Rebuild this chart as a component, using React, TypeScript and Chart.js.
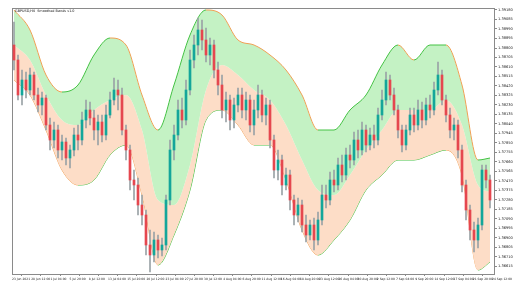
import React, { useEffect, useRef } from "react";
import { Chart, registerables } from "chart.js";

Chart.register(...registerables);

const chartTitle = "GBPUSD,H4  Smoothed Bands v1.0";

const opens = [
  1.3883, 1.3868, 1.3833, 1.3848, 1.3838, 1.3853, 1.3833, 1.3823, 1.3830, 1.3803,
  1.3788, 1.3798, 1.3778, 1.3786, 1.3770, 1.3778, 1.3793, 1.3788, 1.3808, 1.3818,
  1.3810, 1.3798, 1.3806, 1.3793, 1.3813, 1.3828, 1.3838, 1.3833, 1.3798, 1.3778,
  1.3748, 1.3743, 1.3723, 1.3713, 1.3683, 1.3673, 1.3688, 1.3678, 1.3683, 1.3728,
  1.3778, 1.3793, 1.3818, 1.3808, 1.3838, 1.3868, 1.3883, 1.3898, 1.3888, 1.3873,
  1.3883, 1.3858, 1.3843, 1.3818, 1.3828, 1.3808, 1.3823, 1.3833, 1.3818, 1.3828,
  1.3803, 1.3818, 1.3833, 1.3813, 1.3823, 1.3788, 1.3758, 1.3768, 1.3743, 1.3753,
  1.3728, 1.3713, 1.3723, 1.3703, 1.3693, 1.3703, 1.3688, 1.3708, 1.3733, 1.3728,
  1.3748, 1.3743, 1.3763, 1.3753, 1.3773, 1.3768, 1.3788, 1.3778, 1.3798, 1.3783,
  1.3793, 1.3788, 1.3813, 1.3828, 1.3848, 1.3833, 1.3818, 1.3798, 1.3783, 1.3798,
  1.3813, 1.3803, 1.3818, 1.3808, 1.3823, 1.3818, 1.3838, 1.3853, 1.3828, 1.3813,
  1.3798, 1.3803, 1.3778, 1.3743, 1.3718, 1.3698, 1.3688, 1.3703, 1.3758, 1.3748,
];

const highs = [
  1.3906, 1.3873, 1.3858, 1.3856, 1.3860, 1.3856, 1.3840, 1.3836, 1.3833, 1.3810,
  1.3806, 1.3803, 1.3793, 1.3790, 1.3783, 1.3800, 1.3803, 1.3816, 1.3828, 1.3826,
  1.3818, 1.3813, 1.3813, 1.3823, 1.3836, 1.3850, 1.3848, 1.3840, 1.3803, 1.3783,
  1.3758, 1.3750, 1.3733, 1.3718, 1.3698, 1.3696, 1.3693, 1.3690, 1.3733, 1.3788,
  1.3803, 1.3828, 1.3830, 1.3848, 1.3878, 1.3893, 1.3910, 1.3908, 1.3900, 1.3890,
  1.3888, 1.3866, 1.3853, 1.3836, 1.3833, 1.3830, 1.3840, 1.3840, 1.3836, 1.3833,
  1.3828, 1.3843, 1.3838, 1.3830, 1.3828, 1.3793, 1.3778, 1.3773, 1.3760, 1.3758,
  1.3733, 1.3730, 1.3728, 1.3713, 1.3708, 1.3710, 1.3716, 1.3743, 1.3743, 1.3756,
  1.3758, 1.3770, 1.3773, 1.3780, 1.3783, 1.3796, 1.3798, 1.3806, 1.3803, 1.3800,
  1.3803, 1.3820, 1.3838, 1.3856, 1.3853, 1.3840, 1.3823, 1.3803, 1.3803, 1.3820,
  1.3820, 1.3828, 1.3826, 1.3830, 1.3833, 1.3846, 1.3866, 1.3858, 1.3833, 1.3820,
  1.3810, 1.3808, 1.3783, 1.3748, 1.3723, 1.3706, 1.3710, 1.3763, 1.3763, 1.3753,
];

const lows = [
  1.3858, 1.3828, 1.3823, 1.3830, 1.3833, 1.3828, 1.3816, 1.3813, 1.3798, 1.3778,
  1.3780, 1.3770, 1.3768, 1.3763, 1.3760, 1.3772, 1.3778, 1.3783, 1.3800, 1.3803,
  1.3788, 1.3783, 1.3786, 1.3788, 1.3810, 1.3823, 1.3818, 1.3793, 1.3768, 1.3738,
  1.3728, 1.3713, 1.3703, 1.3673, 1.3656, 1.3666, 1.3670, 1.3672, 1.3678, 1.3723,
  1.3768, 1.3788, 1.3800, 1.3803, 1.3833, 1.3860, 1.3873, 1.3878, 1.3866, 1.3863,
  1.3850, 1.3833, 1.3810, 1.3806, 1.3798, 1.3800, 1.3816, 1.3810, 1.3808, 1.3796,
  1.3793, 1.3810, 1.3806, 1.3803, 1.3780, 1.3750, 1.3748, 1.3733, 1.3738, 1.3718,
  1.3703, 1.3706, 1.3696, 1.3686, 1.3688, 1.3678, 1.3683, 1.3703, 1.3720, 1.3723,
  1.3736, 1.3738, 1.3746, 1.3748, 1.3760, 1.3763, 1.3770, 1.3773, 1.3776, 1.3778,
  1.3780, 1.3783, 1.3808, 1.3823, 1.3828, 1.3813, 1.3790, 1.3776, 1.3778, 1.3793,
  1.3796, 1.3798, 1.3800, 1.3803, 1.3810, 1.3813, 1.3833, 1.3823, 1.3806, 1.3790,
  1.3788, 1.3770, 1.3736, 1.3708, 1.3688, 1.3676, 1.3680, 1.3698, 1.3740, 1.3720,
];

const closes = [
  1.3868, 1.3833, 1.3848, 1.3838, 1.3853, 1.3833, 1.3823, 1.3830, 1.3803, 1.3788,
  1.3798, 1.3778, 1.3786, 1.3770, 1.3778, 1.3793, 1.3788, 1.3808, 1.3818, 1.3810,
  1.3798, 1.3806, 1.3793, 1.3813, 1.3828, 1.3838, 1.3833, 1.3798, 1.3778, 1.3748,
  1.3743, 1.3723, 1.3713, 1.3683, 1.3673, 1.3688, 1.3678, 1.3683, 1.3728, 1.3778,
  1.3793, 1.3818, 1.3808, 1.3838, 1.3868, 1.3883, 1.3898, 1.3888, 1.3873, 1.3883,
  1.3858, 1.3843, 1.3818, 1.3828, 1.3808, 1.3823, 1.3833, 1.3818, 1.3828, 1.3803,
  1.3818, 1.3833, 1.3813, 1.3823, 1.3788, 1.3758, 1.3768, 1.3743, 1.3753, 1.3728,
  1.3713, 1.3723, 1.3703, 1.3693, 1.3703, 1.3688, 1.3708, 1.3733, 1.3728, 1.3748,
  1.3743, 1.3763, 1.3753, 1.3773, 1.3768, 1.3788, 1.3778, 1.3798, 1.3783, 1.3793,
  1.3788, 1.3813, 1.3828, 1.3848, 1.3833, 1.3818, 1.3798, 1.3783, 1.3798, 1.3813,
  1.3803, 1.3818, 1.3808, 1.3823, 1.3818, 1.3838, 1.3853, 1.3828, 1.3813, 1.3798,
  1.3803, 1.3778, 1.3743, 1.3718, 1.3698, 1.3688, 1.3703, 1.3758, 1.3748, 1.3728,
];

// band knots (bar index where each band value is sampled)
const bandIndex = [
  0, 4, 8, 12, 16, 20, 24, 28, 32, 36, 40, 44, 48, 52, 56, 60,
  64, 68, 72, 76, 80, 84, 88, 92, 96, 100, 104, 108, 112, 116, 119,
];
const upperBand = [
  1.3918, 1.3898, 1.3853, 1.3836, 1.3843, 1.3873, 1.3890, 1.3883, 1.3833, 1.3798, 1.3843,
  1.3893, 1.3918, 1.3913, 1.3888, 1.3883, 1.3873, 1.3858, 1.3833, 1.3798, 1.3798, 1.3818,
  1.3833, 1.3863, 1.3883, 1.3868, 1.3883, 1.3883, 1.3843, 1.3768, 1.3770,
];
const middleBand = [
  1.3883, 1.3868, 1.3833, 1.3808, 1.3803, 1.3818, 1.3828, 1.3833, 1.3798, 1.3728, 1.3723,
  1.3763, 1.3838, 1.3863, 1.3853, 1.3838, 1.3828, 1.3803, 1.3768, 1.3738, 1.3733, 1.3753,
  1.3778, 1.3798, 1.3818, 1.3818, 1.3818, 1.3828, 1.3803, 1.3743, 1.3736,
];
const lowerBand = [
  1.3848, 1.3833, 1.3798, 1.3758, 1.3743, 1.3748, 1.3773, 1.3783, 1.3733, 1.3663, 1.3693,
  1.3738, 1.3808, 1.3818, 1.3803, 1.3783, 1.3783, 1.3748, 1.3698, 1.3673, 1.3688, 1.3708,
  1.3738, 1.3753, 1.3768, 1.3768, 1.3773, 1.3778, 1.3753, 1.3658, 1.3666,
];

const xTickLabels = [
  "23 Jun 2021", "28 Jun 12:00", "1 Jul 04:00", "5 Jul 20:00", "8 Jul 12:00",
  "13 Jul 04:00", "15 Jul 20:00", "20 Jul 12:00", "23 Jul 04:00", "27 Jul 20:00",
  "30 Jul 12:00", "4 Aug 04:00", "6 Aug 20:00", "11 Aug 12:00", "16 Aug 04:00",
  "18 Aug 20:00", "23 Aug 12:00", "26 Aug 04:00", "30 Aug 20:00", "2 Sep 12:00",
  "7 Sep 04:00", "9 Sep 20:00", "14 Sep 12:00", "17 Sep 04:00", "21 Sep 20:00",
  "24 Sep 12:00",
];

const yTickValues = [
  1.3918, 1.39085, 1.3899, 1.38895, 1.388, 1.38705, 1.3861, 1.38515, 1.3842, 1.38325,
  1.3823, 1.38135, 1.3804, 1.37945, 1.3785, 1.37755, 1.3766, 1.37565, 1.3747, 1.37375,
  1.3728, 1.37185, 1.3709, 1.36995, 1.369, 1.36805, 1.3671, 1.36615,
];

const Y_MIN = 1.3654;
const Y_MAX = 1.392;

const BULL = "#14a69a";
const BEAR = "#e5474f";
const WICK = "#9aa3a6";
const LINE_UP = "#45c245";
const LINE_DOWN = "#f0a055";
const GREEN_FILL = "rgba(196, 242, 196, 1)";
const PEACH_FILL = "rgba(253, 221, 199, 1)";
const FRAME = "#8a8a8a";
const FONT = '"DejaVu Sans", sans-serif';

export default function App() {
  const ref = useRef<HTMLCanvasElement>(null);

  useEffect(() => {
    document.body.style.margin = "0";
    const canvas = ref.current;
    if (!canvas) return;

    const bodies = closes.map((c, i) => ({ x: i, y: [opens[i], c] }));
    const wicks = closes.map((_, i) => ({ x: i, y: [lows[i], highs[i]] }));
    const bodyColors = closes.map((c, i) => (c >= opens[i] ? BULL : BEAR));
    const band = (vals: number[]) => vals.map((v, k) => ({ x: bandIndex[k], y: v }));
    const slopeColor = (ctx: any) =>
      ctx.p1.parsed.y >= ctx.p0.parsed.y ? LINE_UP : LINE_DOWN;
    const xStep = (bandIndex[bandIndex.length - 1] + 1) / (xTickLabels.length - 1);

    const titlePlugin = {
      id: "mtTitle",
      afterDraw(chart: any) {
        const { ctx, chartArea } = chart;
        ctx.save();
        ctx.font = `3.4px ${FONT}`;
        ctx.fillStyle = "#111";
        ctx.textBaseline = "top";
        ctx.fillText(chartTitle, chartArea.left + 3, chartArea.top + 1);
        ctx.restore();
      },
    };

    const chart = new Chart(canvas, {
      type: "bar",
      data: {
        datasets: [
          {
            type: "line",
            data: band(upperBand),
            borderColor: LINE_UP,
            segment: { borderColor: slopeColor },
            borderWidth: 1,
            pointRadius: 0,
            fill: "+1",
            backgroundColor: GREEN_FILL,
            cubicInterpolationMode: "monotone",
            order: 2,
          },
          {
            type: "line",
            data: band(middleBand),
            borderColor: "rgba(0,0,0,0)",
            borderWidth: 1,
            pointRadius: 0,
            fill: "+1",
            backgroundColor: PEACH_FILL,
            cubicInterpolationMode: "monotone",
            order: 2,
          },
          {
            type: "line",
            data: band(lowerBand),
            borderColor: LINE_UP,
            segment: { borderColor: slopeColor },
            borderWidth: 1,
            pointRadius: 0,
            fill: false,
            cubicInterpolationMode: "monotone",
            order: 2,
          },
          {
            type: "bar",
            data: wicks,
            backgroundColor: WICK,
            barThickness: 1,
            grouped: false,
            borderWidth: 0,
            order: 1,
          },
          {
            type: "bar",
            data: bodies,
            backgroundColor: bodyColors,
            barThickness: 2,
            grouped: false,
            borderWidth: 0,
            minBarLength: 1,
            order: 0,
          },
        ] as any,
      },
      options: {
        responsive: false,
        maintainAspectRatio: false,
        animation: false,
        events: [],
        layout: { padding: { left: 12, top: 8, right: 0, bottom: 0 } },
        plugins: {
          legend: { display: false },
          tooltip: { enabled: false },
          title: { display: false },
        },
        scales: {
          x: {
            type: "linear",
            position: "bottom",
            min: -0.5,
            max: 120,
            offset: false,
            grid: { drawOnChartArea: false, drawTicks: true, tickLength: 2, color: FRAME },
            border: { display: true, color: FRAME },
            ticks: {
              autoSkip: false,
              maxRotation: 0,
              minRotation: 0,
              align: "start",
              padding: 1,
              color: "#222",
              font: { size: 3, family: FONT },
              callback: (_v: any, i: number) => xTickLabels[i],
            },
            afterBuildTicks: (s: any) => {
              s.ticks = xTickLabels.map((_, k) => ({ value: -0.5 + k * xStep }));
            },
            afterFit: (s: any) => {
              s.height = 17;
            },
          },
          xTop: {
            type: "linear",
            position: "top",
            min: 0,
            max: 1,
            ticks: { display: false },
            grid: { display: false, drawTicks: false },
            border: { display: true, color: FRAME },
            afterFit: (s: any) => {
              s.height = 0;
            },
          },
          y: {
            type: "linear",
            position: "right",
            min: Y_MIN,
            max: Y_MAX,
            grid: { drawOnChartArea: false, drawTicks: true, tickLength: 3, color: FRAME },
            border: { display: true, color: FRAME },
            ticks: {
              padding: 1,
              color: "#222",
              font: { size: 3.6, family: FONT },
              callback: (v: any) => Number(v).toFixed(5),
            },
            afterBuildTicks: (s: any) => {
              s.ticks = yTickValues.map((v) => ({ value: v }));
            },
            afterFit: (s: any) => {
              s.width = 28;
            },
          },
          yLeft: {
            type: "linear",
            position: "left",
            min: 0,
            max: 1,
            ticks: { display: false },
            grid: { display: false, drawTicks: false },
            border: { display: true, color: FRAME },
            afterFit: (s: any) => {
              s.width = 0;
            },
          },
        },
      } as any,
      plugins: [titlePlugin],
    });

    return () => chart.destroy();
  }, []);

  return (
    <div style={{ width: 522, height: 291, background: "#fff" }}>
      <canvas ref={ref} width={522} height={291} style={{ display: "block" }} />
    </div>
  );
}
